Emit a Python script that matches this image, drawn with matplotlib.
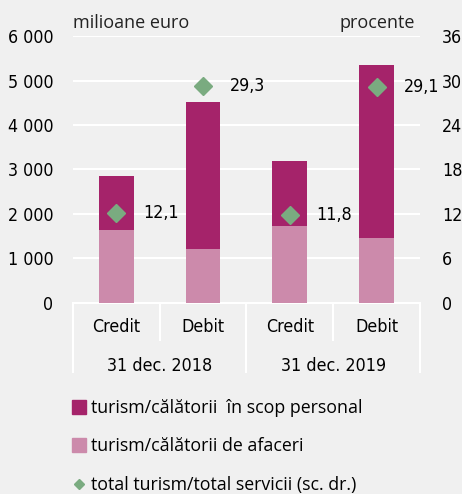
import numpy as np
import matplotlib.pyplot as plt
from matplotlib.lines import Line2D
from matplotlib import font_manager

categories = ["Credit", "Debit", "Credit", "Debit"]
groups = ["31 dec. 2018", "31 dec. 2019"]
afaceri = [1640, 1215, 1730, 1460]
personal = [1220, 3300, 1460, 3890]
share = [12.1, 29.3, 11.8, 29.1]
share_labels = ["12,1", "29,3", "11,8", "29,1"]
left_ticks = [0, 1000, 2000, 3000, 4000, 5000, 6000]
left_labels = ["0", "1 000", "2 000", "3 000", "4 000", "5 000", "6 000"]
right_ticks = [0, 6, 12, 18, 24, 30, 36]

c_pers = "#a5236a"
c_afac = "#cc8aab"
c_share = "#7aab80"
bg = "#f0f0f0"
body = ["Open Sans", "DejaVu Sans"]

# condensed face stands in for the narrow font of the original
narrow = font_manager.FontProperties(family="DejaVu Sans", stretch="condensed", size=12.8)

fig = plt.figure(figsize=(4.62, 4.94), dpi=100, facecolor=bg)
ax = fig.add_axes([0.158, 0.387, 0.751, 0.540])
ax.set_facecolor(bg)
x = np.arange(len(categories))
ax.bar(x, afaceri, width=0.4, color=c_afac, zorder=3)
ax.bar(x, personal, width=0.4, bottom=afaceri, color=c_pers, zorder=3)
ax.set_xlim(-0.5, 3.5)
ax.set_ylim(0, 6000)
ax.set_yticks(left_ticks)
ax.set_yticklabels(left_labels, fontproperties=narrow)
ax.grid(axis="y", color="white", lw=1.5, zorder=0)
ax.set_xticks([])
for s in ax.spines.values():
    s.set_visible(False)
ax.tick_params(axis="y", length=0, pad=14)

ax2 = ax.twinx()
ax2.set_ylim(0, 36)
ax2.set_yticks(right_ticks)
ax2.set_yticklabels([str(t) for t in right_ticks], fontproperties=narrow)
ax2.tick_params(axis="y", length=0, pad=16)
for s in ax2.spines.values():
    s.set_visible(False)
ax2.plot(x, share, ls="none", marker="D", ms=9, color=c_share, zorder=5)
for xi, v, lab in zip(x, share, share_labels):
    ax2.text(xi + 0.31, v, lab, fontproperties=narrow, va="center", ha="left")

# category axis
trans = ax.get_xaxis_transform()
ax.plot([-0.5, 3.5], [0, 0], color="white", lw=1.5, transform=trans, clip_on=False)
for xv, ybot in [(-0.5, -0.26), (0.5, -0.14), (1.5, -0.26), (2.5, -0.14), (3.5, -0.26)]:
    ax.plot([xv, xv], [0, ybot], color="white", lw=1.5, transform=trans, clip_on=False)
for xi, c in zip(x, categories):
    ax.text(xi, -0.09, c, transform=trans, ha="center", va="center", fontproperties=narrow)
for gi, g in enumerate(groups):
    ax.text(0.5 + 2 * gi, -0.235, g, transform=trans, ha="center", va="center", fontproperties=narrow)

fig.text(0.158, 0.953, "milioane euro", family=body, fontsize=13, ha="left", va="center", color="#222222")
fig.text(0.898, 0.953, "procente", family=body, fontsize=13, ha="right", va="center", color="#222222")

handles = [
    Line2D([], [], ls="none", marker="s", ms=10, color=c_pers),
    Line2D([], [], ls="none", marker="s", ms=10, color=c_afac),
    Line2D([], [], ls="none", marker="D", ms=5, color=c_share),
]
labels = ["turism/călătorii  în scop personal", "turism/călătorii de afaceri", "total turism/total servicii (sc. dr.)"]
fig.legend(handles, labels, loc="upper left", bbox_to_anchor=(0.14, 0.207), frameon=False,
           prop={"family": body, "size": 12.8}, handlelength=0.8, handletextpad=0.3, labelspacing=1.15,
           borderaxespad=0)

fig.savefig("out.png", dpi=100, facecolor=bg)
